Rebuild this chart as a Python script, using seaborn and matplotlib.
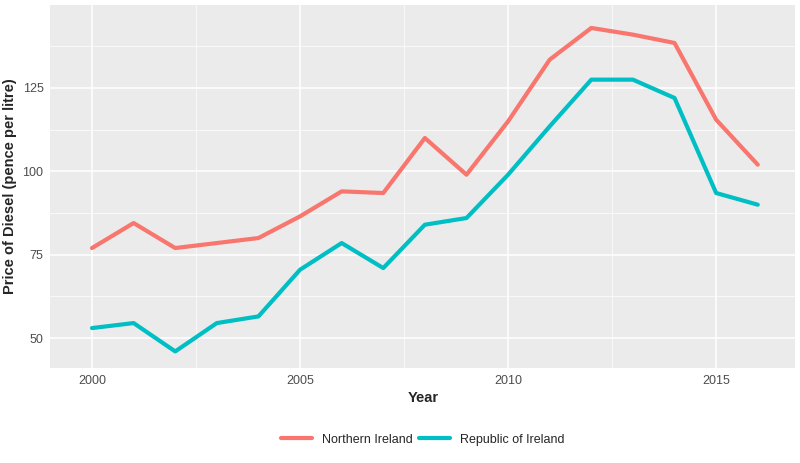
import matplotlib
matplotlib.use("Agg")
import matplotlib.pyplot as plt
import seaborn as sns
import pandas as pd

years = list(range(2000, 2017))
northern_ireland = [77, 84.5, 77, 78.5, 80, 86.5, 94, 93.5, 110, 99, 115, 133.5, 143, 141, 138.5, 115.5, 102]
republic_ireland = [53, 54.5, 46, 54.5, 56.5, 70.5, 78.5, 71, 84, 86, 99, 113.5, 127.5, 127.5, 122, 93.5, 90]

df = pd.DataFrame({
    "Year": years * 2,
    "Price": northern_ireland + republic_ireland,
    "Region": ["Northern Ireland"] * len(years) + ["Republic of Ireland"] * len(years),
})

sns.set_style("darkgrid", {"axes.facecolor": "#EBEBEB", "grid.color": "white"})
plt.rcParams["font.family"] = ["Liberation Sans", "DejaVu Sans"]

fig, ax = plt.subplots(figsize=(8, 4.63), dpi=100)
sns.lineplot(data=df, x="Year", y="Price", hue="Region",
             palette=["#F8766D", "#00BFC4"], linewidth=3, ax=ax)

ax.set_xlim(1999.0, 2016.9)
ax.set_ylim(41, 150)
ax.set_xticks([2000, 2005, 2010, 2015])
ax.set_yticks([50, 75, 100, 125])
ax.set_xticks([2002.5, 2007.5, 2012.5], minor=True)
ax.set_yticks([62.5, 87.5, 112.5, 137.5], minor=True)
ax.grid(which="major", color="white", linewidth=1.1)
ax.grid(which="minor", color="white", linewidth=0.5)
ax.tick_params(which="both", length=3, pad=2, colors="#4D4D4D", labelsize=9)
ax.tick_params(which="minor", length=0)
for s in ax.spines.values():
    s.set_visible(False)
ax.set_xlabel("Year", fontweight="bold", fontsize=10.5, labelpad=3)
ax.set_ylabel("Price of Diesel (pence per litre)", fontweight="bold", fontsize=10.5, labelpad=4)

ax.legend(title=None, loc="upper center", bbox_to_anchor=(0.5, -0.15), ncol=2,
          frameon=False, fontsize=9, handlelength=2.5, columnspacing=0.5)

fig.subplots_adjust(left=0.063, right=0.994, top=0.99, bottom=0.205)
fig.savefig("out.png", dpi=100)
